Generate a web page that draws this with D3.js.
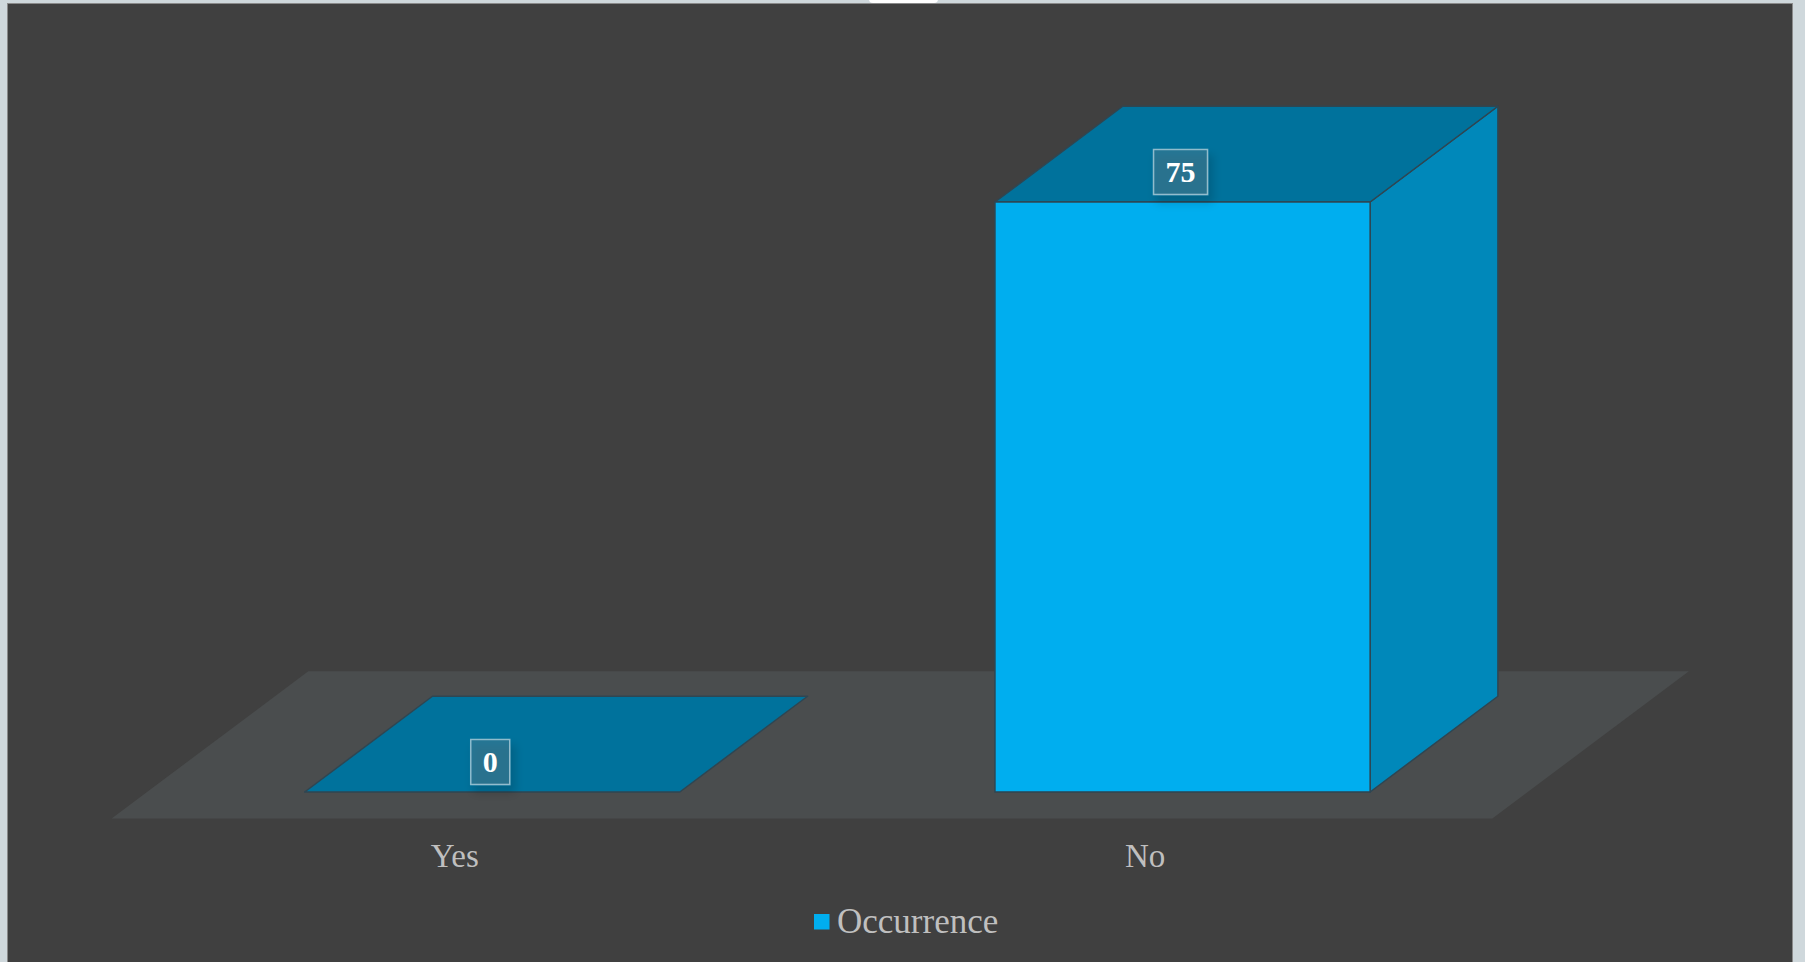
<!DOCTYPE html>
<html>
<head>
<meta charset="utf-8">
<script src="https://cdn.jsdelivr.net/npm/d3@7"></script>
<style>
  html, body { margin: 0; padding: 0; background: #cfd8dc; }
  svg { display: block; }
</style>
</head>
<body>
<svg id="chart" width="1805" height="962"></svg>
<script>
// Chart data
const categories = ["Yes", "No"];
const occurrence = [0, 75];
const seriesName = "Occurrence";
const valueMax = 80;

const W = 1805, H = 962;
const svg = d3.select("#chart");

// Drop shadow used by the data label boxes
const defs = svg.append("defs");
const f = defs.append("filter").attr("id", "lblShadow")
  .attr("x", "-50%").attr("y", "-50%").attr("width", "200%").attr("height", "200%");
f.append("feDropShadow").attr("dx", 4).attr("dy", 7).attr("stdDeviation", 5)
  .attr("flood-color", "#000").attr("flood-opacity", 0.45);

// Panel
svg.append("rect").attr("x", 0).attr("y", 0).attr("width", W).attr("height", H).attr("fill", "#cfd8dc");
svg.append("rect").attr("x", 869).attr("y", -8).attr("width", 69).attr("height", 11).attr("rx", 4)
  .attr("fill", "#ffffff");
svg.append("rect").attr("x", 7.5).attr("y", 3.5).attr("width", 1785).attr("height", H)
  .attr("fill", "#404040").attr("stroke", "#8a8a8a").attr("stroke-width", 1);

// Oblique 3D floor geometry
const floorY = 818.5;          // front edge of the floor
const floorLeft = 111.7, floorRight = 1492.3;
const DX = 196.6, DY = 147.3;  // full depth offset of the floor
const d0 = 0.18, d1 = 0.83;    // depth span occupied by the bars
const gapWidth = 0.84;

const x = d3.scaleBand().domain(categories).range([floorLeft, floorRight]).padding(0);
const step = x.step();
const barW = step / (1 + gapWidth);
const h = d3.scaleLinear().domain([0, valueMax]).range([0, 590 * valueMax / 75]);

const g = svg.append("g");

// Floor
g.append("polygon")
  .attr("points", [[floorLeft, floorY], [floorRight, floorY], [floorRight + DX, floorY - DY], [floorLeft + DX, floorY - DY]].join(" "))
  .attr("fill", "#4a4d4e");

const bdx = (d1 - d0) * DX, bdy = (d1 - d0) * DY;
const edge = "#2f4652";

const bars = categories.map((c, i) => {
  const x0 = x(c) + (step - barW) / 2 + d0 * DX;
  const yb = floorY - d0 * DY;
  const yt = yb - h(occurrence[i]);
  return { c, v: occurrence[i], x0, x1: x0 + barW, yb, yt };
});

const bg = g.selectAll("g.bar").data(bars).join("g").attr("class", "bar");

// Side face
bg.filter(d => d.v > 0).append("polygon")
  .attr("points", d => [[d.x1, d.yt], [d.x1 + bdx, d.yt - bdy], [d.x1 + bdx, d.yb - bdy], [d.x1, d.yb]].join(" "))
  .attr("fill", "#0088ba").attr("stroke", edge).attr("stroke-width", 1.5).attr("stroke-linejoin", "round");

// Top face
bg.append("polygon")
  .attr("points", d => [[d.x0, d.yt], [d.x1, d.yt], [d.x1 + bdx, d.yt - bdy], [d.x0 + bdx, d.yt - bdy]].join(" "))
  .attr("fill", "#00729c").attr("stroke", edge).attr("stroke-width", 1.5).attr("stroke-linejoin", "round");

// Front face
bg.filter(d => d.v > 0).append("rect")
  .attr("x", d => d.x0).attr("y", d => d.yt)
  .attr("width", barW).attr("height", d => d.yb - d.yt)
  .attr("fill", "#00aeef").attr("stroke", edge).attr("stroke-width", 1.5);

// Data labels, centred over the front edge of each bar's top
bg.each(function (d) {
  const lg = d3.select(this).append("g");
  const box = lg.append("rect");
  const cx = (d.x0 + d.x1) / 2 - 2;
  const t = lg.append("text").text(d.v)
    .attr("font-family", "'Liberation Serif', 'DejaVu Serif', serif")
    .attr("font-weight", "bold").attr("font-size", 30)
    .attr("fill", "#ffffff").attr("text-anchor", "middle");
  const tw = t.node().getComputedTextLength();
  const bw = tw + 24, bh = 45;
  const top = d.yt - 52.5;
  box.attr("x", cx - bw / 2).attr("y", top).attr("width", bw).attr("height", bh)
    .attr("fill", "rgba(120,130,135,0.3)").attr("stroke", "rgba(225,235,240,0.6)").attr("stroke-width", 1.5)
    .attr("filter", "url(#lblShadow)");
  t.attr("x", cx).attr("y", top + bh / 2 + 10);
});

// Category axis labels
g.selectAll("text.cat").data(categories).join("text").attr("class", "cat")
  .attr("x", c => x(c) + step / 2 - 2).attr("y", 867)
  .attr("text-anchor", "middle")
  .attr("font-family", "'Liberation Serif', 'DejaVu Serif', serif").attr("font-size", 33)
  .attr("fill", "#bfbfbf").text(c => c);

// Legend
const leg = svg.append("g").attr("transform", "translate(814,914)");
leg.append("rect").attr("width", 15.5).attr("height", 15.5).attr("fill", "#00aeef");
leg.append("text").attr("x", 23).attr("y", 18.5)
  .attr("font-family", "'Liberation Serif', 'DejaVu Serif', serif").attr("font-size", 35)
  .attr("fill", "#bfbfbf").text(seriesName);
</script>
</body>
</html>
